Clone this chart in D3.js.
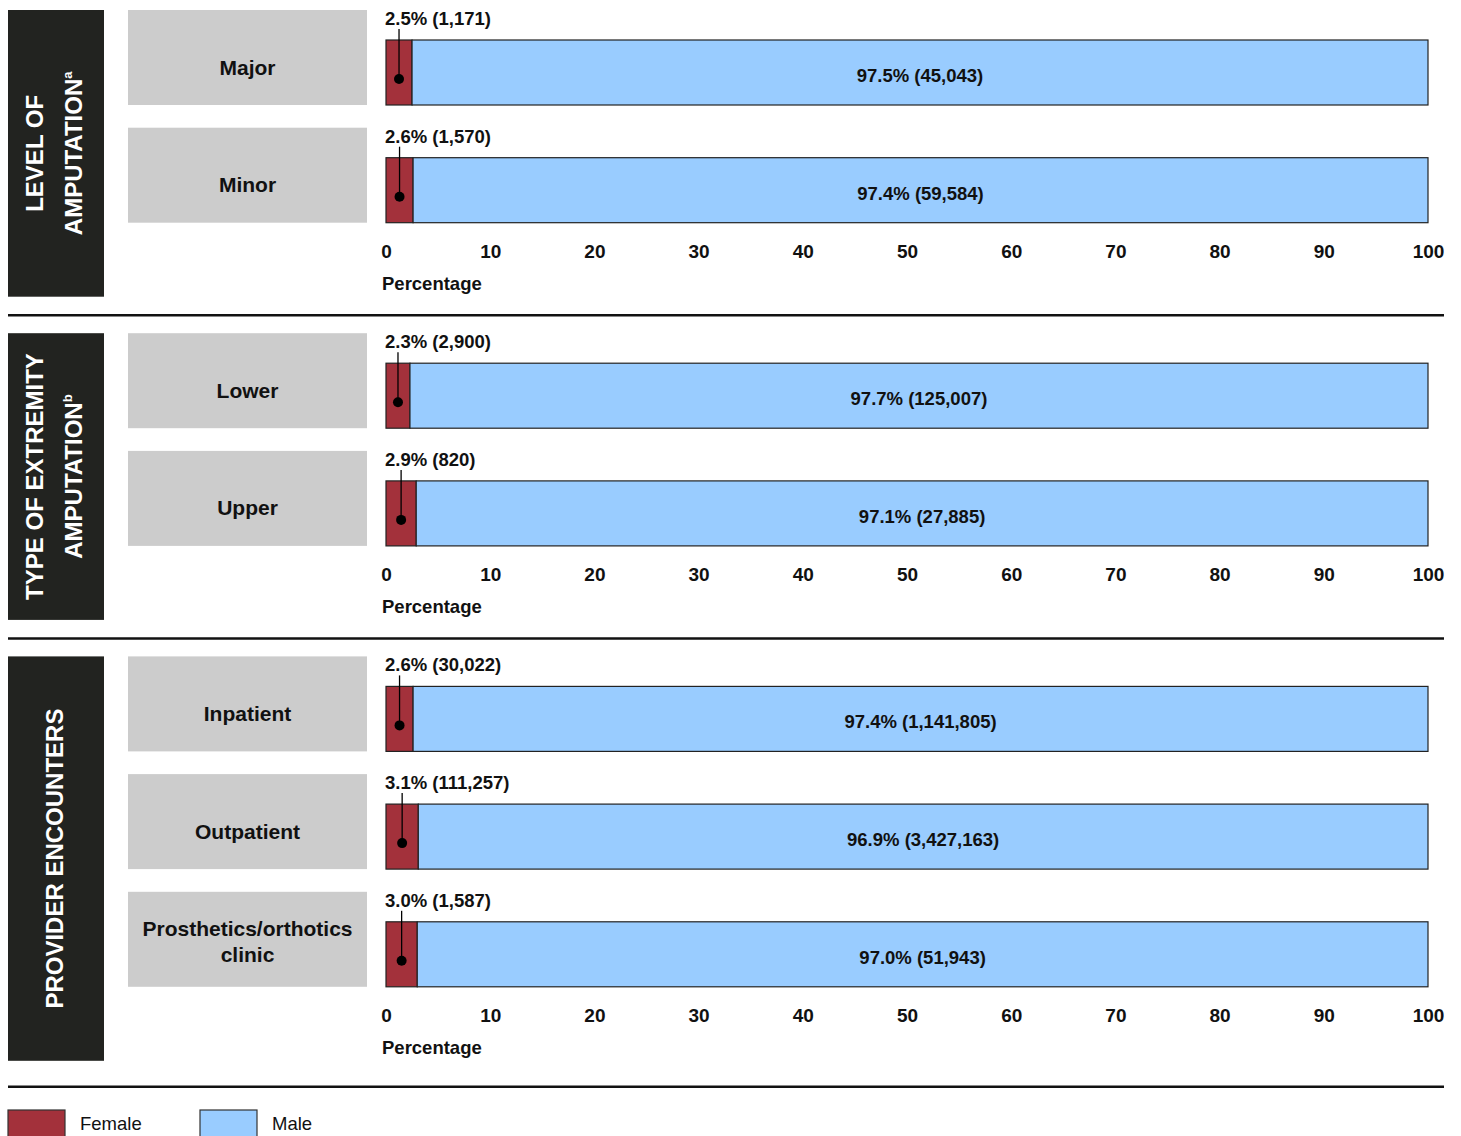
<!DOCTYPE html>
<meta charset='utf-8'>
<script src='https://d3js.org/d3.v7.min.js'></script>
<style>
body { margin: 0; background: #fff; }
text { font-family: 'Liberation Sans', Arial, sans-serif; }
</style>
<body>
<script>
var width = 1461,
    height = 1136;

// data
var groupLines = [["LEVEL OF", "AMPUTATION"], ["TYPE OF EXTREMITY", "AMPUTATION"], ["PROVIDER ENCOUNTERS"]];
var groupSup = ["a", "b", ""];
var categories = [["Major", "Minor"], ["Lower", "Upper"], ["Inpatient", "Outpatient", "Prosthetics/orthotics clinic"]];
var femalePct = [[2.5, 2.6], [2.3, 2.9], [2.6, 3.1, 3.0]];
var femaleN = [["1,171", "1,570"], ["2,900", "820"], ["30,022", "111,257", "1,587"]];
var malePct = [[97.5, 97.4], [97.7, 97.1], [97.4, 96.9, 97.0]];
var maleN = [["45,043", "59,584"], ["125,007", "27,885"], ["1,141,805", "3,427,163", "51,943"]];
var ticks = [0, 10, 20, 30, 40, 50, 60, 70, 80, 90, 100];

var femaleColor = "#a3313b",
    maleColor = "#99ccff",
    panelColor = "#222320",
    boxColor = "#cccccc";

var svg = d3.select('body').append('svg').attr('width', width).attr('height', height);

var x = d3.scaleLinear().domain([0, 100]).range([386, 1428]);

var rowStep = 117.7, boxH = 95, barH = 65;
var yTop = 10;

groupLines.forEach(function(lines, gi) {
  var cats = categories[gi];
  var g = svg.append('g');
  var y = d3.scalePoint().domain(d3.range(cats.length)).range([yTop, yTop + rowStep * (cats.length - 1)]);
  var lastBottom = y(cats.length - 1) + boxH;
  var panelBottom = lastBottom + 74;

  // dark side panel
  g.append('rect').attr('x', 8).attr('y', yTop).attr('width', 96).attr('height', panelBottom - yTop)
    .attr('fill', panelColor);
  var cx = 54, cy = (yTop + panelBottom) / 2;
  lines.forEach(function(l, li) {
    var off = (li - (lines.length - 1) / 2) * 39;
    var t = g.append('text')
      .attr('transform', 'translate(' + (cx + off + 8.5) + ',' + cy + ') rotate(-90)')
      .attr('text-anchor', 'middle')
      .attr('fill', '#fff').attr('font-weight', 'bold').attr('font-size', 24)
      .text(l);
    if (li == lines.length - 1 && groupSup[gi]) {
      t.append('tspan').attr('font-size', 13).attr('dy', -10).text(groupSup[gi]);
    }
  });

  cats.forEach(function(c, i) {
    var by = y(i);
    // gray label box
    g.append('rect').attr('x', 128).attr('y', by).attr('width', 239).attr('height', boxH).attr('fill', boxColor);
    var words = c == "Prosthetics/orthotics clinic" ? ["Prosthetics/orthotics", "clinic"] : [c];
    var shift = words.length > 1 ? 10 : 17;
    words.forEach(function(w, wi) {
      g.append('text').attr('x', 247.5)
        .attr('y', by + boxH / 2 + shift + (wi - (words.length - 1) / 2) * 26)
        .attr('text-anchor', 'middle').attr('font-weight', 'bold').attr('font-size', 21)
        .attr('fill', '#111').text(w);
    });

    var barTop = by + boxH - barH;
    var f = femalePct[gi][i], m = malePct[gi][i];
    g.append('rect').attr('x', x(0)).attr('y', barTop).attr('width', x(f) - x(0)).attr('height', barH)
      .attr('fill', femaleColor).attr('stroke', '#222').attr('stroke-width', 1.2);
    g.append('rect').attr('x', x(f)).attr('y', barTop).attr('width', x(f + m) - x(f)).attr('height', barH)
      .attr('fill', maleColor).attr('stroke', '#222').attr('stroke-width', 1.2);

    var mid = x(f / 2);
    g.append('line').attr('x1', mid).attr('x2', mid).attr('y1', barTop - 11).attr('y2', barTop + 39)
      .attr('stroke', '#000').attr('stroke-width', 1.3);
    g.append('circle').attr('cx', mid).attr('cy', barTop + 39).attr('r', 5).attr('fill', '#000');
    g.append('text').attr('x', 385).attr('y', barTop - 15)
      .attr('font-weight', 'bold').attr('font-size', 18.5).attr('fill', '#111')
      .text(f.toFixed(1) + '% (' + femaleN[gi][i] + ')');
    g.append('text').attr('x', (x(f) + x(f + m)) / 2).attr('y', barTop + 42)
      .attr('text-anchor', 'middle').attr('font-weight', 'bold').attr('font-size', 18.5).attr('fill', '#111')
      .text(m.toFixed(1) + '% (' + maleN[gi][i] + ')');
  });

  // axis
  var axis = d3.axisBottom(x).tickValues(ticks).tickSize(0).tickPadding(0);
  var ag = g.append('g').attr('transform', 'translate(0,' + (lastBottom + 22) + ')').call(axis);
  ag.select('.domain').remove();
  ag.selectAll('text').attr('font-size', 19).attr('font-weight', 'bold').attr('fill', '#111')
    .attr('font-family', "'Liberation Sans', Arial, sans-serif");
  g.append('text').attr('x', 382).attr('y', lastBottom + 67)
    .attr('font-weight', 'bold').attr('font-size', 18.5).attr('fill', '#111').text('Percentage');

  // separator
  var sepY = panelBottom + (gi == groupLines.length - 1 ? 26 : 18.5);
  g.append('line').attr('x1', 8).attr('x2', 1444).attr('y1', sepY).attr('y2', sepY)
    .attr('stroke', '#111').attr('stroke-width', 2.5);

  yTop = panelBottom + 36.5;
});

// legend
var legend = [["Female", femaleColor, 8], ["Male", maleColor, 200]];
legend.forEach(function(d) {
  svg.append('rect').attr('x', d[2]).attr('y', 1110).attr('width', 57).attr('height', 30)
    .attr('fill', d[1]).attr('stroke', '#333').attr('stroke-width', 1.2);
  svg.append('text').attr('x', d[2] + 72).attr('y', 1130).attr('font-size', 18.5).attr('fill', '#111').text(d[0]);
});
</script>
